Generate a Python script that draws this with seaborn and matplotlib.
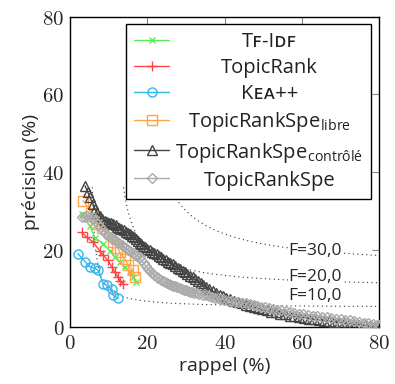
import numpy as np
import pandas as pd
import matplotlib
matplotlib.use("Agg")
import matplotlib.pyplot as plt
import seaborn as sns
from matplotlib.lines import Line2D
from matplotlib.ticker import FuncFormatter
from matplotlib.transforms import IdentityTransform

# recall / precision points (%)
tfidf_r = [3.0, 5.2, 6.5, 8.6, 10.3, 11.6, 12.9, 14.2, 15.5, 16.3, 17.2]
tfidf_p = [29.2, 26.0, 23.0, 21.5, 19.7, 18.0, 16.7, 15.5, 14.2, 12.9, 11.6]

tr_r = [3.0, 4.3, 6.0, 7.7, 8.6, 9.9, 10.8, 11.6, 12.5, 12.9, 13.8]
tr_p = [24.4, 23.2, 21.9, 19.7, 18.5, 17.2, 15.5, 14.2, 12.8, 12.0, 11.0]

kea_r = [2.1, 3.9, 5.2, 6.5, 7.3, 8.6, 9.5, 10.8, 11.2, 12.5]
kea_p = [18.9, 16.9, 15.5, 15.2, 14.6, 11.2, 10.8, 9.9, 8.2, 7.4]

libre_r = [3.4, 5.5, 6.8, 8.2, 10.3, 11.2, 12.3, 12.9, 14.2, 15.1, 16.3, 16.8]
libre_p = [32.6, 29.5, 26.5, 25.5, 24.0, 22.0, 20.5, 19.3, 17.6, 15.9, 14.6, 12.9]

ctrl_r = [3.9, 4.6, 5.2, 5.9, 6.5, 7.1, 7.7, 8.4, 9.0, 9.6, 10.2, 10.7, 11.2, 11.8,
          12.3, 12.8, 13.3, 13.9, 14.4, 15.0, 15.5, 16.0, 16.5, 17.0, 17.5, 18.0,
          18.5, 19.0, 19.5, 20.0, 20.6, 21.2, 21.8, 22.4, 23.0, 23.6, 24.2, 24.8,
          25.4, 26.0, 26.7, 27.3, 27.9, 28.5, 29.2, 29.8, 30.4, 31.1, 31.8, 32.4,
          33.1, 33.8, 34.5, 35.3, 36.1, 37.0, 37.8, 38.7, 39.6, 40.5, 41.5, 42.5,
          43.5, 44.5, 45.5, 46.5, 47.6, 48.7, 49.8, 50.9, 52.0, 53.2, 54.4, 55.6,
          56.8, 58.0, 59.3, 60.6, 61.9, 63.2, 64.5, 65.8, 67.1, 68.4, 69.7, 71.0,
          72.3, 73.6, 74.9, 76.2, 77.5, 78.8, 80.0]
ctrl_p = [36.4, 34.8, 33.5, 31.8, 30.4, 29.4, 28.6, 27.9, 27.4, 27.1, 26.9, 26.7, 26.6, 26.2,
          25.9, 25.6, 25.3, 24.9, 24.6, 24.3, 24.0, 23.5, 23.1, 22.6, 22.2, 21.8,
          21.4, 21.0, 20.6, 20.2, 19.8, 19.4, 19.1, 18.8, 18.4, 18.0, 17.6, 17.2,
          16.8, 16.5, 16.2, 15.7, 15.3, 14.9, 14.5, 14.1, 13.6, 13.2, 12.8, 12.3,
          11.8, 11.3, 10.8, 10.3, 9.8, 9.2, 8.8, 8.4, 8.0, 7.6, 7.2, 6.8,
          6.4, 6.1, 5.8, 5.5, 5.2, 4.9, 4.6, 4.3, 4.0, 3.8, 3.5, 3.3,
          3.0, 2.8, 2.6, 2.4, 2.2, 2.0, 1.8, 1.6, 1.5, 1.3, 1.2, 1.0,
          0.9, 0.7, 0.6, 0.5, 0.4, 0.3, 0.1]

spe_r = [3.0, 3.8, 4.5, 5.2, 6.0, 6.6, 7.2, 7.9, 8.5, 9.2, 9.9, 10.5, 11.0, 11.6,
         12.2, 12.8, 13.4, 14.0, 14.5, 15.0, 15.6, 16.2, 16.8, 17.4, 18.0, 18.5,
         19.1, 19.6, 20.2, 20.7, 21.3, 21.8, 22.4, 22.9, 23.5, 24.0, 24.6, 25.1,
         25.7, 26.2, 26.7, 27.3, 27.8, 28.4, 28.9, 29.5, 30.0, 30.6, 31.1, 31.7,
         32.2, 32.8, 33.5, 34.3, 35.1, 35.9, 36.7, 37.5, 38.3, 39.1, 39.9, 40.8,
         41.7, 42.6, 43.5, 44.5, 45.5, 46.5, 47.5, 48.5, 49.5, 50.5, 51.5, 52.5,
         53.6, 54.7, 55.8, 56.9, 58.0, 59.2, 60.4, 61.6, 62.8, 64.0, 65.2, 66.4,
         67.6, 68.8, 70.0, 71.2, 72.4, 73.6, 74.8, 76.0, 77.2, 78.4, 79.4, 80.0]
spe_p = [28.3, 28.4, 28.5, 28.4, 28.3, 27.4, 26.5, 25.7, 25.0, 24.3, 23.6, 23.2, 22.8, 22.4,
         22.0, 21.6, 21.2, 20.7, 20.3, 19.9, 19.5, 19.1, 18.7, 18.4, 18.0, 17.2,
         16.4, 15.7, 15.0, 14.5, 14.0, 13.4, 12.9, 12.6, 12.2, 11.9, 11.6, 11.3,
         11.1, 10.9, 10.7, 10.5, 10.3, 10.1, 9.9, 9.7, 9.5, 9.3, 9.1, 9.0,
         8.8, 8.7, 8.6, 8.4, 8.2, 8.0, 7.8, 7.6, 7.4, 7.2, 7.0, 6.8,
         6.7, 6.5, 6.4, 6.2, 6.1, 5.9, 5.7, 5.5, 5.3, 5.1, 4.9, 4.7,
         4.5, 4.3, 4.1, 3.9, 3.7, 3.5, 3.3, 3.2, 3.0, 2.8, 2.7, 2.5,
         2.4, 2.2, 2.1, 1.9, 1.8, 1.6, 1.4, 1.2, 1.0, 0.8, 0.6, 0.5]

f_levels = [10, 20, 30]
f_label_y = [7.9, 12.9, 19.7]

labels = ["T\ua730-I\u1d05\ua730", "TopicRank", "K\u1d07\u1d00++",
          r"TopicRankSpe$_{\mathregular{libre}}$",
          r"TopicRankSpe$_{\mathregular{contrôlé}}$", "TopicRankSpe"]

series = [
    (tfidf_r, tfidf_p, "#55ee55", "x", 5),
    (tr_r, tr_p, "#ff4444", "+", 7),
    (kea_r, kea_p, "#33b5ee", "o", 6.5),
    (libre_r, libre_p, "#ffa448", "s", 7),
    (ctrl_r, ctrl_p, "#444444", "^", 6.5),
    (spe_r, spe_p, "#aaaaaa", "D", 5),
]

sns.set_style("white")
plt.rcParams["font.family"] = ["Open Sans", "DejaVu Sans"]
plt.rcParams["mathtext.fontset"] = "cm"

fig, ax = plt.subplots(figsize=(3.95, 3.84), dpi=100)
fig.subplots_adjust(left=0.177, right=0.96, top=0.957, bottom=0.148)

# iso-F guide curves
for f, ly in zip(f_levels, f_label_y):
    r = np.linspace(f * 36 / (72 - f), 80, 300)
    p = f * r / (2 * r - f)
    ax.plot(r, p, color="#333333", linestyle=(0, (1, 3)), linewidth=0.8, zorder=1)
    ax.text(56.5, ly, f"F={f},0", fontsize=12.5, va="center", ha="left",
            bbox=dict(facecolor="white", edgecolor="none", pad=0), zorder=2)

handles = []
for (r, p, c, m, ms), lab in zip(series, labels):
    df = pd.DataFrame({"rappel": r, "precision": p})
    sns.lineplot(data=df, x="rappel", y="precision", ax=ax, color=c, marker=m,
                 markersize=ms, mfc="none", mec=c, mew=1.0, linewidth=1.0,
                 sort=False, estimator=None, zorder=3)
    handles.append(Line2D([], [], color=c, marker=m, markersize=ms, mfc="none",
                          mec=c, mew=1.0, linewidth=1.0, label=lab))

ax.set_xlim(0, 80)
ax.set_ylim(0, 80)
ax.set_xticks([0, 20, 40, 60, 80])
ax.set_yticks([0, 20, 40, 60, 80])
fmt = FuncFormatter(lambda v, pos: f"${int(v)}$")
ax.xaxis.set_major_formatter(fmt)
ax.yaxis.set_major_formatter(fmt)
ax.tick_params(direction="in", length=5, color="#888888", labelsize=15,
               top=True, right=True, pad=4)
for s in ax.spines.values():
    s.set_color("black")
    s.set_linewidth(1.0)

ax.set_xlabel("rappel (%)", fontsize=14, labelpad=2)
ax.set_ylabel("précision (%)", fontsize=14, labelpad=2)

leg = ax.legend(handles=handles, loc="upper right", bbox_to_anchor=(0.975, 0.975),
                borderaxespad=0, fontsize=14.5, frameon=True, fancybox=False,
                framealpha=1, edgecolor="black", handlelength=1.75,
                labelspacing=0.3, borderpad=0.4, handletextpad=0.3)
leg.get_frame().set_linewidth(1.0)
leg.set_zorder(5)

# centre the legend labels in their column, as in the original figure
fig.canvas.draw()
rend = fig.canvas.get_renderer()
texts = leg.get_texts()
boxes = [t.get_window_extent(rend) for t in texts]
xc = (min(b.x0 for b in boxes) + max(b.x1 for b in boxes)) / 2
for t, lab in zip(texts, labels):
    yb = t.get_transform().transform(t.get_position())[1]
    t.set_alpha(0)
    fig.text(xc, yb, lab, transform=IdentityTransform(), ha="center",
             va="baseline", fontsize=14.5, color="#222222", zorder=10)

fig.savefig("out.png", dpi=100)
